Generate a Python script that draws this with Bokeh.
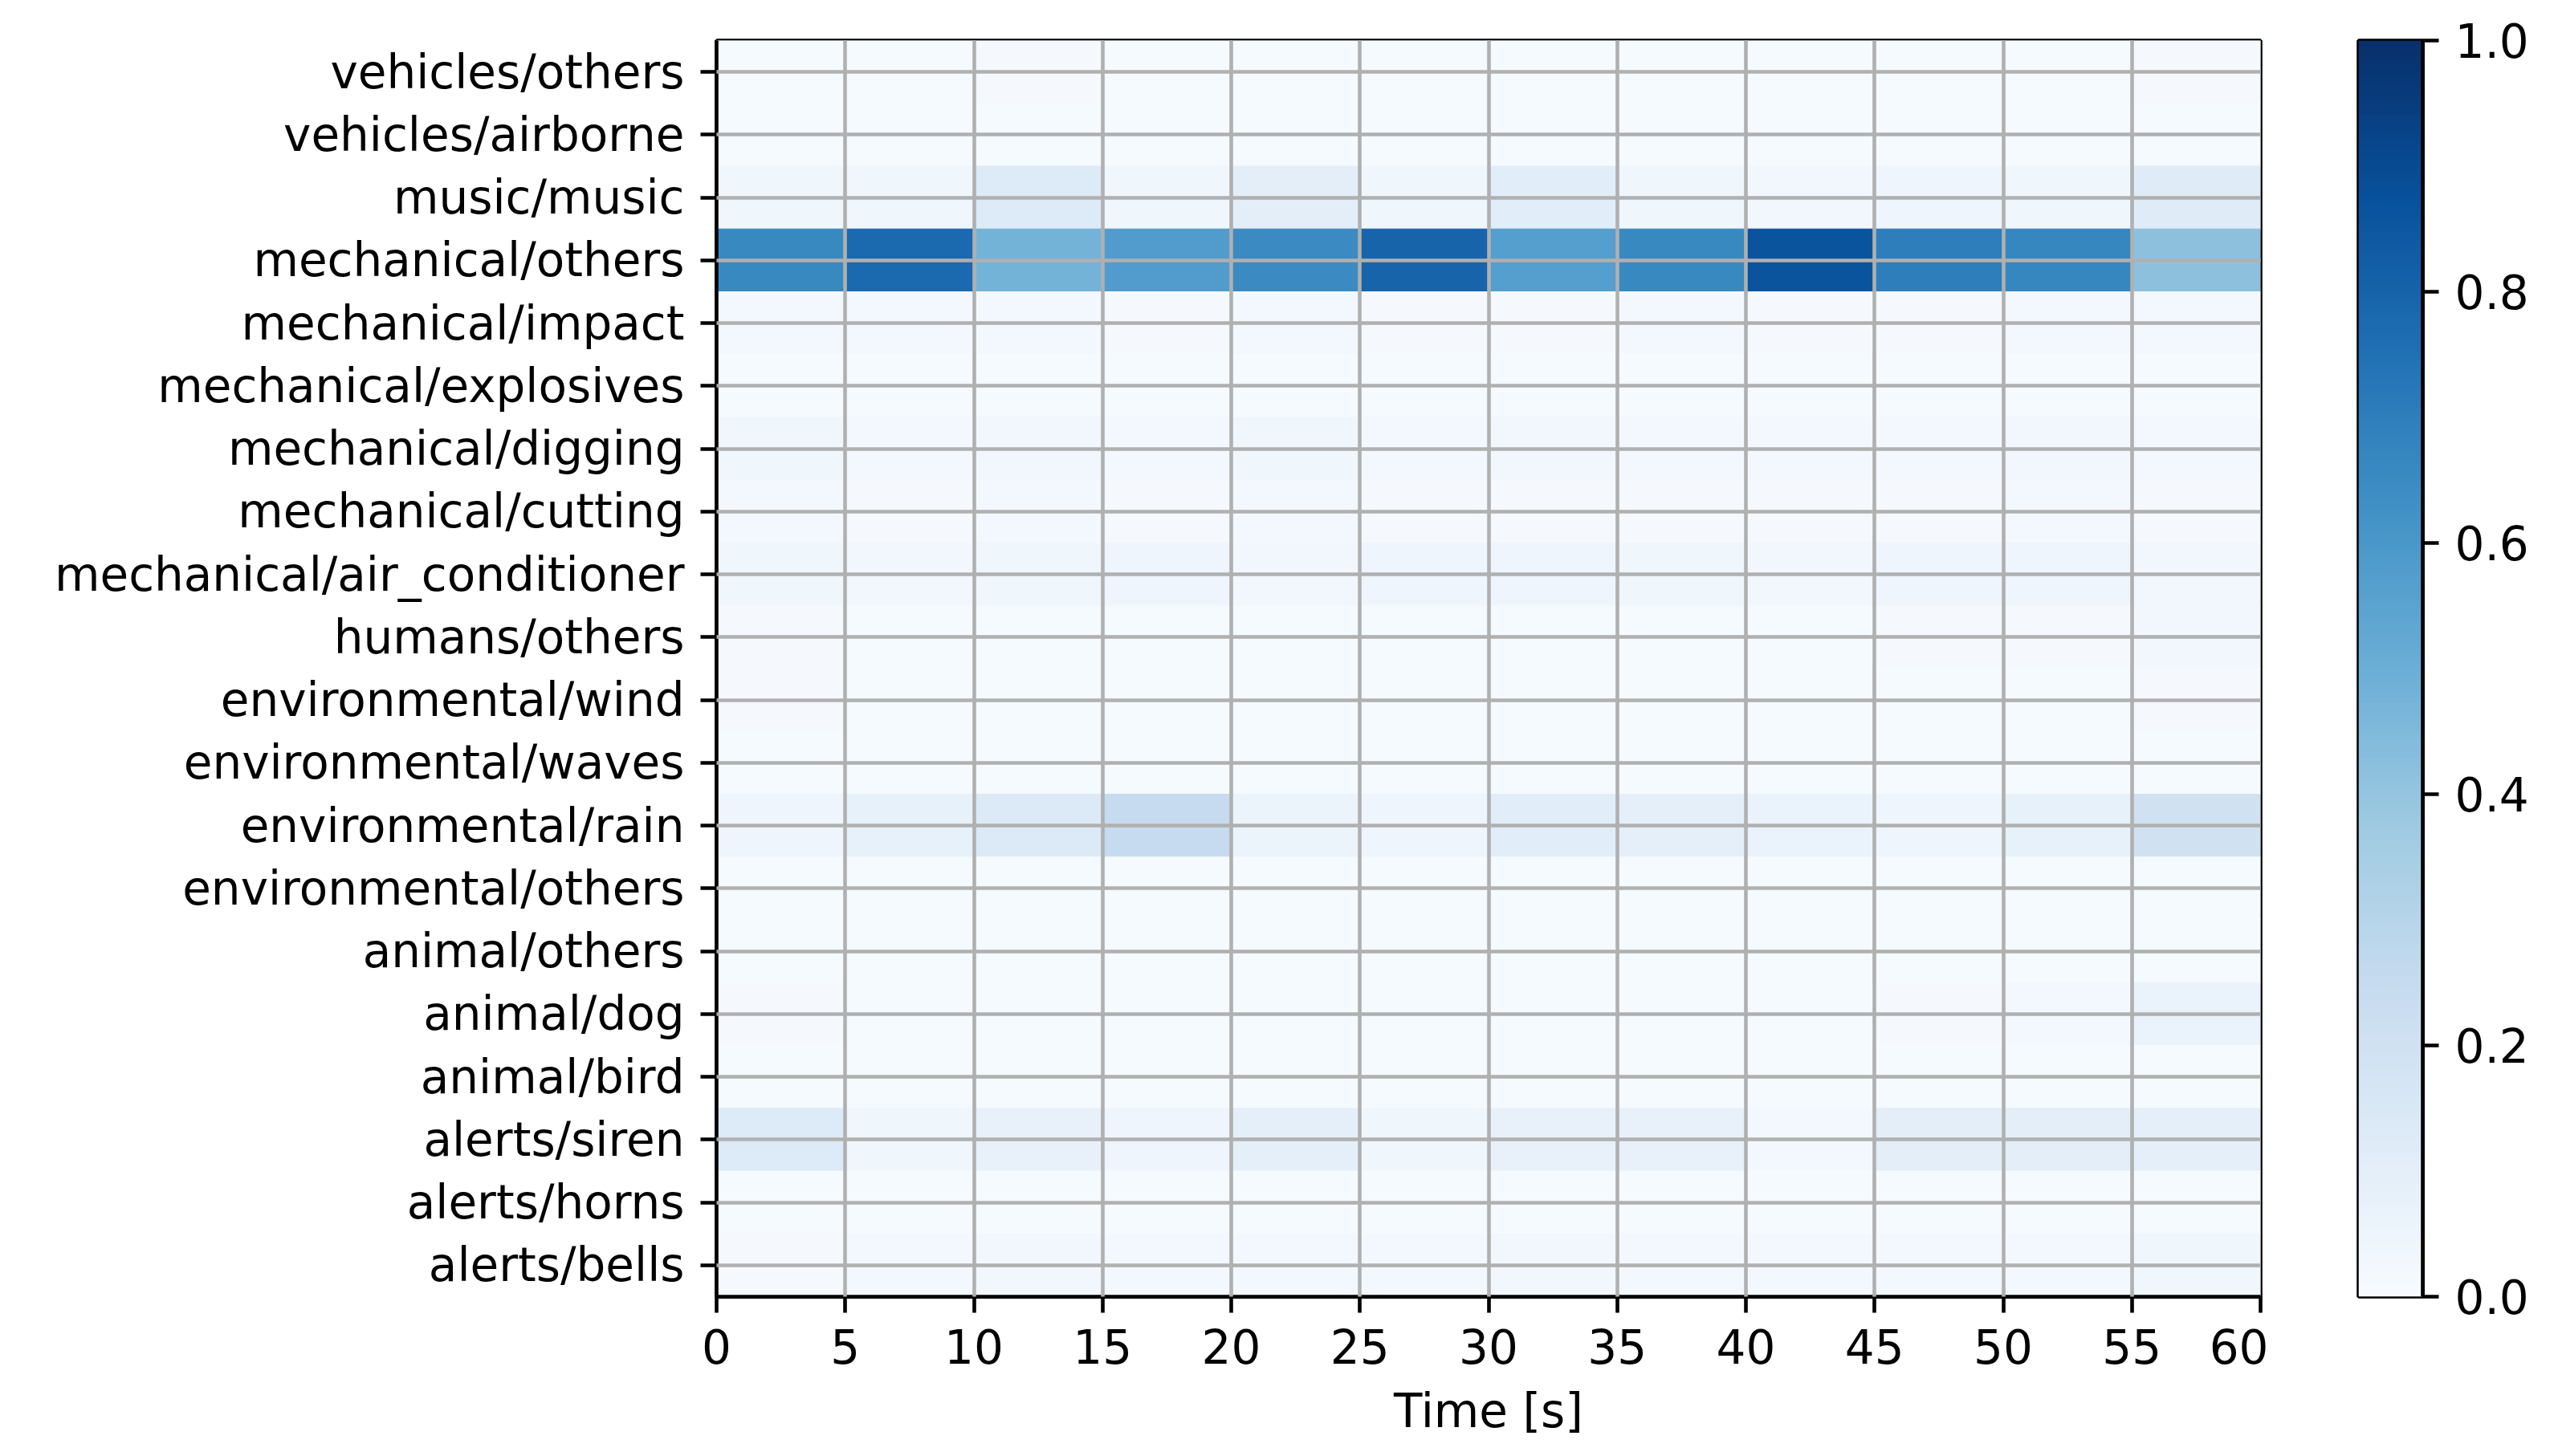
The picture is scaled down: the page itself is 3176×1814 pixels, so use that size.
import numpy as np
from bokeh.plotting import figure
from bokeh.models import ColumnDataSource, FactorRange, Range1d, FixedTicker, LinearColorMapper, PrintfTickFormatter
from bokeh.transform import linear_cmap
from bokeh.layouts import row
from bokeh.embed import file_html
from bokeh.resources import INLINE
from bokeh.palettes import Blues9

# ---------------- data ----------------
categories = [
    "vehicles/others", "vehicles/airborne", "music/music", "mechanical/others",
    "mechanical/impact", "mechanical/explosives", "mechanical/digging", "mechanical/cutting",
    "mechanical/air_conditioner", "humans/others", "environmental/wind", "environmental/waves",
    "environmental/rain", "environmental/others", "animal/others", "animal/dog",
    "animal/bird", "alerts/siren", "alerts/horns", "alerts/bells",
]
time_edges = [0, 5, 10, 15, 20, 25, 30, 35, 40, 45, 50, 55, 60]
cbar_ticks = [0.0, 0.2, 0.4, 0.6, 0.8, 1.0]

vehicles_others = [0.01, 0.01, 0.015, 0.01, 0.01, 0.01, 0.01, 0.01, 0.01, 0.01, 0.01, 0.015]
vehicles_airborne = [0.01, 0.01, 0.01, 0.01, 0.01, 0.01, 0.01, 0.01, 0.01, 0.01, 0.01, 0.01]
music_music = [0.04, 0.04, 0.13, 0.04, 0.10, 0.04, 0.11, 0.04, 0.03, 0.05, 0.04, 0.12]
mechanical_others = [0.66, 0.78, 0.48, 0.58, 0.65, 0.80, 0.57, 0.66, 0.86, 0.70, 0.67, 0.42]
mechanical_impact = [0.02, 0.02, 0.02, 0.015, 0.02, 0.015, 0.015, 0.02, 0.015, 0.015, 0.02, 0.02]
mechanical_explosives = [0.01, 0.01, 0.01, 0.01, 0.01, 0.01, 0.01, 0.01, 0.01, 0.01, 0.01, 0.01]
mechanical_digging = [0.04, 0.02, 0.035, 0.02, 0.04, 0.02, 0.03, 0.02, 0.02, 0.02, 0.03, 0.02]
mechanical_cutting = [0.02, 0.015, 0.02, 0.015, 0.02, 0.015, 0.015, 0.015, 0.015, 0.015, 0.02, 0.015]
mechanical_air_conditioner = [0.04, 0.03, 0.04, 0.05, 0.03, 0.045, 0.05, 0.04, 0.03, 0.045, 0.05, 0.03]
humans_others = [0.015, 0.01, 0.01, 0.01, 0.01, 0.01, 0.01, 0.01, 0.01, 0.015, 0.015, 0.03]
environmental_wind = [0.015, 0.01, 0.01, 0.01, 0.01, 0.01, 0.01, 0.01, 0.01, 0.01, 0.01, 0.015]
environmental_waves = [0.01, 0.01, 0.01, 0.01, 0.01, 0.01, 0.01, 0.01, 0.01, 0.01, 0.01, 0.01]
environmental_rain = [0.05, 0.08, 0.14, 0.25, 0.055, 0.05, 0.11, 0.09, 0.065, 0.05, 0.08, 0.20]
environmental_others = [0.01, 0.01, 0.01, 0.01, 0.01, 0.01, 0.01, 0.01, 0.01, 0.01, 0.01, 0.01]
animal_others = [0.01, 0.01, 0.01, 0.01, 0.01, 0.01, 0.01, 0.01, 0.01, 0.01, 0.01, 0.01]
animal_dog = [0.015, 0.01, 0.01, 0.01, 0.01, 0.01, 0.01, 0.01, 0.01, 0.015, 0.02, 0.07]
animal_bird = [0.01, 0.01, 0.01, 0.01, 0.01, 0.01, 0.01, 0.01, 0.01, 0.01, 0.01, 0.01]
alerts_siren = [0.13, 0.04, 0.075, 0.05, 0.09, 0.04, 0.075, 0.075, 0.02, 0.10, 0.10, 0.095]
alerts_horns = [0.01, 0.01, 0.01, 0.01, 0.01, 0.01, 0.01, 0.01, 0.01, 0.01, 0.01, 0.01]
alerts_bells = [0.015, 0.02, 0.03, 0.02, 0.02, 0.02, 0.03, 0.02, 0.02, 0.02, 0.02, 0.04]

rows = [
    vehicles_others, vehicles_airborne, music_music, mechanical_others,
    mechanical_impact, mechanical_explosives, mechanical_digging, mechanical_cutting,
    mechanical_air_conditioner, humans_others, environmental_wind, environmental_waves,
    environmental_rain, environmental_others, animal_others, animal_dog,
    animal_bird, alerts_siren, alerts_horns, alerts_bells,
]

# ---------------- palette (matplotlib-like Blues, 256 steps) ----------------
anchors = list(Blues9)[::-1]  # light -> dark
rgb = np.array([[int(h[i:i + 2], 16) for i in (1, 3, 5)] for h in anchors], dtype=float)
pos = np.linspace(0, 1, len(anchors))
t = np.linspace(0, 1, 256)
pal = np.stack([np.interp(t, pos, rgb[:, k]) for k in range(3)], axis=1)
palette = ["#%02x%02x%02x" % tuple(int(round(c)) for c in col) for col in pal]

# ---------------- source ----------------
xs, ws, ys, vs = [], [], [], []
for cat, vals in zip(categories, rows):
    for i, v in enumerate(vals):
        xs.append((time_edges[i] + time_edges[i + 1]) / 2)
        ws.append(time_edges[i + 1] - time_edges[i])
        ys.append(cat)
        vs.append(v)
src = ColumnDataSource(dict(x=xs, w=ws, y=ys, v=vs))

FONT = "DejaVu Sans"
FS = "58px"
LW = 4.6

p = figure(
    x_range=Range1d(time_edges[0], time_edges[-1]),
    y_range=FactorRange(factors=categories[::-1], range_padding=0),
    frame_width=1923, frame_height=1565,
    min_border_left=892, min_border_top=50, min_border_right=10, min_border_bottom=165,
    output_backend="svg", toolbar_location=None,
)
cmap = linear_cmap("v", palette, 0, 1)
p.rect(x="x", y="y", width="w", height=1, source=src, fill_color=cmap, line_color=cmap, line_width=1)

p.xaxis.ticker = FixedTicker(ticks=time_edges)
p.xgrid.ticker = FixedTicker(ticks=time_edges[1:-1])
for g in (p.xgrid, p.ygrid):
    g.grid_line_color = "#b0b0b0"
    g.grid_line_width = LW
    g.level = "annotation"

for ax in (p.xaxis, p.yaxis):
    ax.major_label_text_font = FONT
    ax.major_label_text_font_size = FS
    ax.major_label_text_color = "black"
    ax.major_tick_out = 20
    ax.major_tick_in = 0
    ax.major_tick_line_width = LW
    ax.major_tick_line_color = "black"
    ax.minor_tick_line_color = None
    ax.axis_line_width = LW
    ax.axis_line_color = "black"
    ax.major_label_standoff = 20

p.xaxis.axis_label = "Time [s]"
p.xaxis.axis_label_text_font = FONT
p.xaxis.axis_label_text_font_size = FS
p.xaxis.axis_label_text_font_style = "normal"
p.xaxis.axis_label_text_color = "black"
p.xaxis.axis_label_standoff = 22

p.outline_line_color = "black"
p.outline_line_width = LW
p.outline_line_alpha = 1.0

# ---------------- colorbar figure ----------------
cb = figure(
    x_range=Range1d(0, 1), y_range=Range1d(cbar_ticks[0], cbar_ticks[-1]),
    frame_width=80, frame_height=1565,
    min_border_left=112, min_border_top=50, min_border_right=140, min_border_bottom=165,
    x_axis_location=None, y_axis_location="right",
    output_backend="svg", toolbar_location=None,
)
grad = np.linspace(0, 1, 256).reshape(256, 1)
cb.image(image=[grad], x=0, y=0, dw=1, dh=1,
         color_mapper=LinearColorMapper(palette=palette, low=0, high=1))
cb.grid.visible = False
cb.yaxis.ticker = FixedTicker(ticks=cbar_ticks)
cb.yaxis.formatter = PrintfTickFormatter(format="%.1f")
cb.yaxis.major_label_text_font = FONT
cb.yaxis.major_label_text_font_size = FS
cb.yaxis.major_label_text_color = "black"
cb.yaxis.major_tick_out = 20
cb.yaxis.major_tick_in = 0
cb.yaxis.major_tick_line_width = LW
cb.yaxis.minor_tick_line_color = None
cb.yaxis.axis_line_width = LW
cb.yaxis.major_label_standoff = 20
cb.outline_line_color = "black"
cb.outline_line_width = LW
cb.outline_line_alpha = 1.0

layout = row(p, cb)
open("out.html", "w").write(file_html(layout, INLINE))
